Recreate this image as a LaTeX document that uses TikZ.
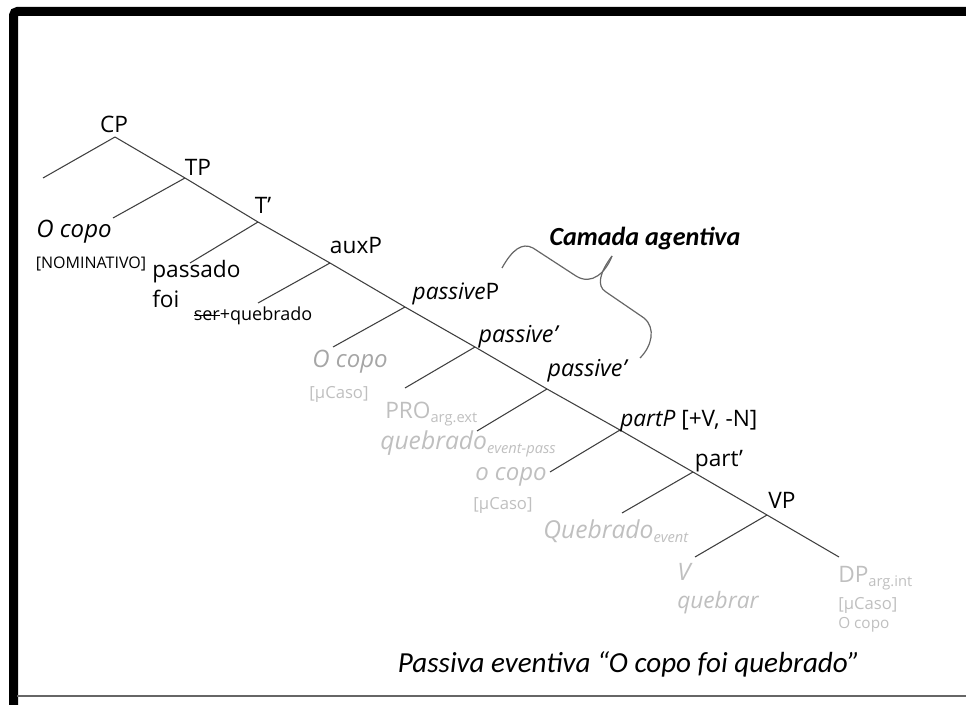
\documentclass[tikz,border=0pt]{standalone}
\usepackage{fontspec}
\setmainfont{Open Sans}
\newfontfamily\calfont{Carlito}
\definecolor{lg}{HTML}{BFBFBF}
\definecolor{mg}{HTML}{A6A6A6}
\definecolor{ln}{HTML}{404040}
\newcommand\lowsub[1]{\raisebox{-3pt}{\fontsize{11}{12}\selectfont #1}}
\newcommand\strk[1]{\setbox0\hbox{#1}\rlap{\rule[0.28em]{\wd0}{0.6pt}}\box0}
\begin{document}
\begin{tikzpicture}[x=0.75pt,y=-0.75pt,
  branch/.style={draw=ln,line width=0.8pt},
  lab/.style={inner sep=0pt,font=\fontsize{17}{20}\selectfont},
  ilab/.style={lab,font=\fontsize{18}{21}\selectfont\itshape},
  small/.style={inner sep=0pt,font=\fontsize{11.5}{13}\selectfont},
  ghost/.style={text=lg},
  brace/.style={draw=ln!80,line width=0.9pt}]
\useasboundingbox (0,0) rectangle (966,705);
% frame
\draw[line width=6.75pt,rounded corners=3pt] (13.5,705) -- (13.5,11.5) -- (970,11.5);
\draw[gray!80!black,line width=1.2pt] (17,696) -- (966,696);
% spine coordinates
\coordinate (aCP) at (115,137);
\coordinate (aTP) at (185,178);
\coordinate (aT) at (258,222);
\coordinate (aAux) at (330,263);
\coordinate (aPas) at (405,307);
\coordinate (aPasA) at (475,347);
\coordinate (aPasB) at (547,389);
\coordinate (aPart) at (620,430);
\coordinate (aPartA) at (693,472);
\coordinate (aVP) at (767,515);
\coordinate (eDP) at (839,557);
% left ends
\coordinate (lCP) at (43,178);
\coordinate (lTP) at (113,218);
\coordinate (lT) at (190,263);
\coordinate (lAux) at (258,303);
\coordinate (lPas) at (333,347);
\coordinate (lPasA) at (405,388);
\coordinate (lPasB) at (477,431);
\coordinate (lPart) at (550,472);
\coordinate (lPartA) at (622,513);
\coordinate (lVP) at (695,557);
\draw[branch] (aCP) -- (aTP) -- (aT) -- (aAux) -- (aPas) -- (aPasA) -- (aPasB) -- (aPart) -- (aPartA) -- (aVP) -- (eDP);
\draw[branch] (aCP) -- (lCP);
\draw[branch] (aTP) -- (lTP);
\draw[branch] (aT) -- (lT);
\draw[branch] (aAux) -- (lAux);
\draw[branch] (aPas) -- (lPas);
\draw[branch] (aPasA) -- (lPasA);
\draw[branch] (aPasB) -- (lPasB);
\draw[branch] (aPart) -- (lPart);
\draw[branch] (aPartA) -- (lPartA);
\draw[branch] (aVP) -- (lVP);
% head labels
\node[lab] (nCP) at (114,124) {CP};
\node[lab] (nTP) at (198,167) {TP};
\node[lab] (nT) at (263,205) {T’};
\node[lab] (nAux) at (356,246) {auxP};
\node[lab] (nPas) at (456,294) {\textit{passive}P};
\node[ilab,font=\fontsize{17.5}{21}\selectfont\itshape] (nPasA) at (518,337) {passive’};
\node[ilab,font=\fontsize{17.5}{21}\selectfont\itshape] (nPasB) at (587,371) {passive’};
\node[lab,anchor=west] (nPart) at (620,421) {\textit{partP} [+V, -N]};
\node[lab] (nPartA) at (719,461) {part’};
\node[lab] (nVP) at (782,500) {VP};
% dependents
\node[ilab] (nOcopo) at (74,232) {O copo};
\node[small,font=\fontsize{12}{14}\selectfont] (nNom) at (91,264) {[NOMINATIVO]};
\node[lab,anchor=west] (nPass) at (152,272) {passado};
\node[lab,anchor=west] (nFoi) at (152,299) {foi};
\node[small,font=\fontsize{13.5}{15}\selectfont] (nSer) at (253,316) {\strk{ser}+quebrado};
\node[ilab,text=mg] (nOcopo2) at (350,362) {O copo};
\node[small,ghost,font=\fontsize{12.5}{14}\selectfont] (nCaso1) at (339,394) {[µCaso]};
\node[lab,ghost,anchor=base west] (nPRO) at (385,418) {PRO\lowsub{arg.ext}};
\node[ilab,ghost,anchor=base west,font=\fontsize{18.5}{21}\selectfont\itshape] (nQueb) at (380,449) {quebrado\lowsub{\itshape event-pass}};
\node[ilab,ghost] (nOcopo3) at (511,477) {o copo};
\node[small,ghost,font=\fontsize{12.5}{14}\selectfont] (nCaso2) at (503,505) {[µCaso]};
\node[ilab,ghost,anchor=base west,font=\fontsize{18.5}{21}\selectfont\itshape] (nQueb2) at (543,538) {Quebrado\lowsub{\itshape event}};
\node[ilab,ghost,anchor=base west] (nV) at (677,580) {V};
\node[ilab,ghost,anchor=base west,font=\fontsize{17}{20}\selectfont\itshape] (nQuebrar) at (677,608) {quebrar};
\node[lab,ghost,anchor=base west] (nDP) at (838,582) {DP\lowsub{arg.int}};
\node[small,ghost,anchor=west,font=\fontsize{12.5}{14}\selectfont] (nCaso3) at (838,605) {[µCaso]};
\node[small,ghost,anchor=west] (nOcopo4) at (838,625) {O copo};
% brace
\coordinate (b1) at (502,268);
\coordinate (bTip) at (612,256);
\coordinate (b2) at (640,358);
\draw[brace] (b1) .. controls (512,250) and (522,242) .. (533,248) -- (576,276)
  .. controls (592,286) and (606,272) .. (bTip);
\draw[brace] (bTip) .. controls (600,272) and (596,286) .. (606,292) -- (644,318)
  .. controls (656,328) and (652,346) .. (b2);
\node[inner sep=0pt,font=\calfont\bfseries\itshape\fontsize{19.6}{23}\selectfont] (nCam) at (645,239) {Camada agentiva};
% title
\node[inner sep=0pt,font=\calfont\itshape\fontsize{21.8}{26}\selectfont] (nTitle) at (629,664) {Passiva eventiva “O copo foi quebrado”};
\end{tikzpicture}
\end{document}
